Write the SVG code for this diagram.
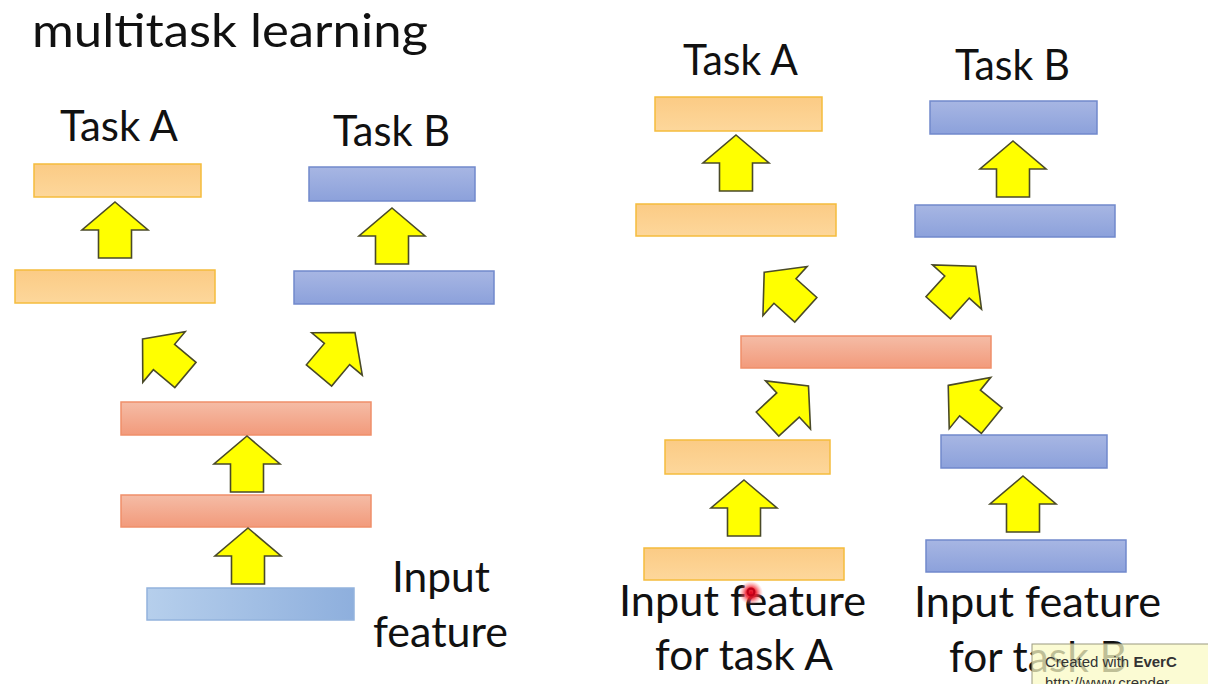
<svg xmlns="http://www.w3.org/2000/svg" xmlns:xlink="http://www.w3.org/1999/xlink" width="1208" height="684" viewBox="0 0 1208 684">
<style>
  .t { font-family: Lato, "Open Sans", "Liberation Sans", sans-serif; fill: #111; }
  .lbl { font-size: 43px; }
  .title { font-size: 47px; }
  .orange { fill: url(#gOrange); stroke: #F5BC3C; stroke-width: 1.5; }
  .blue { fill: url(#gBlue); stroke: #7189CC; stroke-width: 1.5; }
  .salmon { fill: url(#gSalmon); stroke: #EF8F6A; stroke-width: 1.5; }
  .lblue { fill: url(#gLBlue); stroke: #93B3DD; stroke-width: 1.5; }
  .arrow { fill: #FFFF00; stroke: #4A4A28; stroke-width: 1.6; stroke-linejoin: miter; }
  .wm { font-family: "Liberation Sans", Arial, sans-serif; font-size: 15px; fill: #333; }
</style>
<defs>
  <linearGradient id="gOrange" x1="0" y1="0" x2="0" y2="1">
    <stop offset="0" stop-color="#FBCB85"/>
    <stop offset="1" stop-color="#FDD79B"/>
  </linearGradient>
  <linearGradient id="gBlue" x1="0" y1="0" x2="0" y2="1">
    <stop offset="0" stop-color="#A7B6E3"/>
    <stop offset="1" stop-color="#8CA1DB"/>
  </linearGradient>
  <linearGradient id="gSalmon" x1="0" y1="0" x2="0" y2="1">
    <stop offset="0" stop-color="#F5BCA6"/>
    <stop offset="1" stop-color="#F29A7B"/>
  </linearGradient>
  <linearGradient id="gLBlue" x1="0" y1="0" x2="1" y2="0">
    <stop offset="0" stop-color="#B6CFEC"/>
    <stop offset="1" stop-color="#8EAFDD"/>
  </linearGradient>
  <radialGradient id="gDot">
    <stop offset="0" stop-color="#E0001A"/>
    <stop offset="0.45" stop-color="#F02030" stop-opacity="0.85"/>
    <stop offset="1" stop-color="#FF8080" stop-opacity="0"/>
  </radialGradient>
  <polygon id="arr" class="arrow" points="0,-28 33,0 16.5,0 16.5,28 -16.5,28 -16.5,0 -33,0"/>
</defs>
<rect width="1208" height="684" fill="#FFFFFF"/>

<text class="t title" x="32" y="47" textLength="396" lengthAdjust="spacingAndGlyphs">multitask learning</text>

<!-- Left diagram -->
<g id="L-taskA-label"><text class="t lbl" x="60" y="141" textLength="118" lengthAdjust="spacingAndGlyphs">Task A</text></g>
<g id="L-taskB-label"><text class="t lbl" x="333" y="146" textLength="117" lengthAdjust="spacingAndGlyphs">Task B</text></g>
<g id="L-A2"><rect class="orange" x="34" y="164" width="167" height="33"/></g>
<g id="L-A1"><rect class="orange" x="15" y="270" width="200" height="33"/></g>
<g id="L-B2"><rect class="blue" x="309" y="167" width="166" height="34"/></g>
<g id="L-B1"><rect class="blue" x="294" y="271" width="200" height="33"/></g>
<g id="L-S2"><rect class="salmon" x="121" y="402" width="250" height="33"/></g>
<g id="L-S1"><rect class="salmon" x="121" y="495" width="250" height="32"/></g>
<g id="L-in"><rect class="lblue" x="147" y="588" width="207" height="32"/></g>
<g id="L-input-label">
  <text class="t lbl" x="392" y="592" textLength="98" lengthAdjust="spacingAndGlyphs">Input</text>
  <text class="t lbl" x="373" y="647" textLength="135" lengthAdjust="spacingAndGlyphs">feature</text>
</g>

<!-- Right diagram -->
<g id="R-taskA-label"><text class="t lbl" x="683" y="75" textLength="115" lengthAdjust="spacingAndGlyphs">Task A</text></g>
<g id="R-taskB-label"><text class="t lbl" x="955" y="80" textLength="115" lengthAdjust="spacingAndGlyphs">Task B</text></g>
<g id="R-A3"><rect class="orange" x="655" y="97" width="167" height="34"/></g>
<g id="R-A2"><rect class="orange" x="636" y="204" width="200" height="32"/></g>
<g id="R-B3"><rect class="blue" x="930" y="101" width="167" height="33"/></g>
<g id="R-B2"><rect class="blue" x="915" y="205" width="200" height="32"/></g>
<g id="R-S"><rect class="salmon" x="741" y="336" width="250" height="32"/></g>
<g id="R-A1"><rect class="orange" x="665" y="440" width="165" height="34"/></g>
<g id="R-B1"><rect class="blue" x="941" y="435" width="166" height="33"/></g>
<g id="R-inA"><rect class="orange" x="644" y="548" width="200" height="32"/></g>
<g id="R-inB"><rect class="blue" x="926" y="540" width="200" height="32"/></g>
<g id="R-inA-label">
  <text class="t lbl" x="619" y="616" textLength="247" lengthAdjust="spacingAndGlyphs">Input feature</text>
  <text class="t lbl" x="655" y="670" textLength="178" lengthAdjust="spacingAndGlyphs">for task A</text>
</g>
<g id="R-inB-label">
  <text class="t lbl" x="914" y="617" textLength="247" lengthAdjust="spacingAndGlyphs">Input feature</text>
  <text class="t lbl" x="949" y="672" textLength="178" lengthAdjust="spacingAndGlyphs">for task B</text>
</g>

<!-- Connectors (block arrows) -->
<g id="connectors">
  <use xlink:href="#arr" href="#arr" transform="translate(115,230)"/>
  <use xlink:href="#arr" href="#arr" transform="translate(392,236)"/>
  <use xlink:href="#arr" href="#arr" transform="translate(164,357) rotate(-50)"/>
  <use xlink:href="#arr" href="#arr" transform="translate(337,354) rotate(40)"/>
  <use xlink:href="#arr" href="#arr" transform="translate(247,464)"/>
  <use xlink:href="#arr" href="#arr" transform="translate(248,556)"/>

  <use xlink:href="#arr" href="#arr" transform="translate(736,163)"/>
  <use xlink:href="#arr" href="#arr" transform="translate(1013,169)"/>
  <use xlink:href="#arr" href="#arr" transform="translate(785,291) rotate(-48)"/>
  <use xlink:href="#arr" href="#arr" transform="translate(957,287) rotate(42)"/>
  <use xlink:href="#arr" href="#arr" transform="translate(788,405) rotate(47)"/>
  <use xlink:href="#arr" href="#arr" transform="translate(970,403) rotate(-51)"/>
  <use xlink:href="#arr" href="#arr" transform="translate(744,508)"/>
  <use xlink:href="#arr" href="#arr" transform="translate(1023,504)"/>
</g>

<!-- laser pointer dot -->
<circle cx="751" cy="593" r="12" fill="url(#gDot)"/>
<circle cx="751" cy="592" r="3.4" fill="none" stroke="#C00018" stroke-width="2.2"/>

<!-- watermark -->
<g id="watermark">
  <rect x="1032" y="644" width="180" height="44" fill="#FAFAC4" fill-opacity="0.75" stroke="#9A9A80" stroke-width="1"/>
  <text class="wm" x="1045" y="667">Created with <tspan font-weight="bold">EverC</tspan></text>
  <text class="wm" x="1045" y="688">http://www.crender</text>
</g>
</svg>
